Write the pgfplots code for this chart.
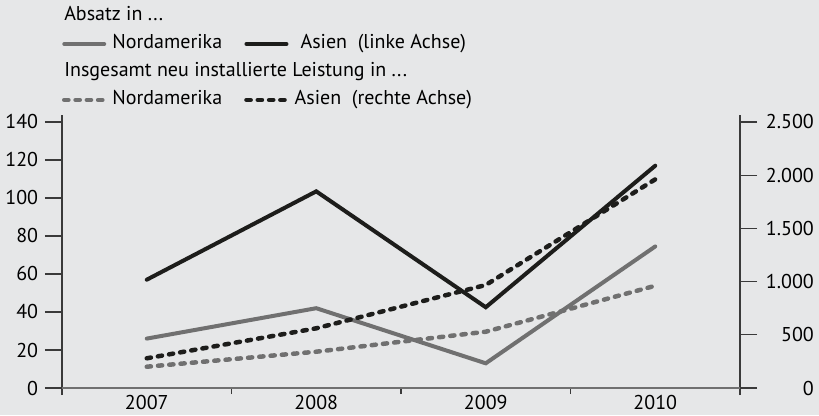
\documentclass[border=0pt]{standalone}
\usepackage{pgfplots}
\pgfplotsset{compat=1.18}
\usepackage{fontspec}
\setmainfont{PT Sans}
\usetikzlibrary{backgrounds}
\definecolor{bg}{HTML}{E6E7E8}
\definecolor{cgray}{HTML}{707070}
\definecolor{cblack}{HTML}{1D1D1B}
\definecolor{caxis}{HTML}{3A3A3A}
\pgfplotsset{
  base/.style={scale only axis, width=678pt, height=266pt, at={(62pt,27pt)}, anchor=south west,
    xmin=-0.5, xmax=3.5, ymin=0, tick align=outside,
    font=\fontsize{20}{24}\selectfont, /pgf/number format/assume math mode=true,
    scaled y ticks=false, clip=false},
  solidline/.style={line width=4pt, line cap=round, line join=miter},
  dashline/.style={line width=4.5pt, line cap=round, line join=round, dash pattern=on 4.2pt off 7.1pt},
}
\begin{document}
\fontsize{20}{24}\selectfont
\begin{tikzpicture}
\begin{axis}[base, ymax=140, axis y line*=left, axis x line=none,
  ytick={0,20,...,140}, major tick length=17pt,
  y axis line style={draw=caxis, line width=1.5pt, shorten <=-7pt, shorten >=-7pt},
  ytick style={draw=caxis, line width=1.2pt},
  legend columns=2,
  legend image code/.code={\draw[#1] (0pt,0pt) -- (40pt,0pt);},
  legend style={at={(0,1.44)}, anchor=north west, draw=none, fill=none, inner sep=0pt, outer sep=0pt,
    font=\fontsize{20}{24}\selectfont,
    nodes={inner sep=2pt, text height=14pt, text depth=4pt},
    row sep=6pt,
    /tikz/every even column/.append style={column sep=20pt},
    /tikz/every odd column/.append style={column sep=4pt}},
]
\addlegendimage{legend image code/.code={\node[overlay, anchor=west, inner sep=0pt] at (0pt,0pt) {Absatz in ...};}}
\addlegendentry{}
\addlegendimage{empty legend}
\addlegendentry{}
\addplot[cgray, solidline] coordinates {(0,26) (1,42) (2,13) (3,74.5)};
\addlegendentry{Nordamerika}
\addplot[cblack, solidline] coordinates {(0,57) (1,103.5) (2,42.5) (3,117)};
\addlegendentry{Asien\ \ (linke Achse)}
\addlegendimage{legend image code/.code={\node[overlay, anchor=west, inner sep=0pt] at (0pt,0pt) {Insgesamt neu installierte Leistung in ...};}}
\addlegendentry{}
\addlegendimage{empty legend}
\addlegendentry{}
\addlegendimage{cgray, dashline}
\addlegendentry{Nordamerika}
\addlegendimage{cblack, dashline}
\addlegendentry{Asien\ \ (rechte Achse)}
\end{axis}
\begin{axis}[base, ymax=2500, axis y line*=right, axis x line=none,
  ytick={0,500,...,2500}, major tick length=17pt,
  /pgf/number format/1000 sep={.},
  y axis line style={draw=caxis, line width=1.5pt, shorten <=-7pt, shorten >=-7pt},
  ytick style={draw=caxis, line width=1.2pt},
  yticklabel style={text width=50pt, align=right},
]
\addplot[cgray, dashline] coordinates {(0,200) (1,341) (2,529) (3,961)};
\addplot[cblack, dashline] coordinates {(0,279) (1,561) (2,968) (3,1961)};
\end{axis}
\begin{axis}[base, ymax=140, axis y line=none, axis x line*=bottom,
  xtick={-0.5,0.5,1.5,2.5,3.5}, xticklabels={}, major tick length=6pt,
  x axis line style={draw=cgray, line width=2pt},
  xtick style={draw=caxis, line width=1.2pt},
  extra x ticks={0,1,2,3}, extra x tick labels={2007,2008,2009,2010},
  extra x tick style={major tick length=0pt},
]
\end{axis}
\begin{scope}[on background layer]
\fill[bg] (0,0) rectangle (819pt,415pt);
\end{scope}
\pgfresetboundingbox
\useasboundingbox (0,0) rectangle (819pt,415pt);
\end{tikzpicture}
\end{document}
